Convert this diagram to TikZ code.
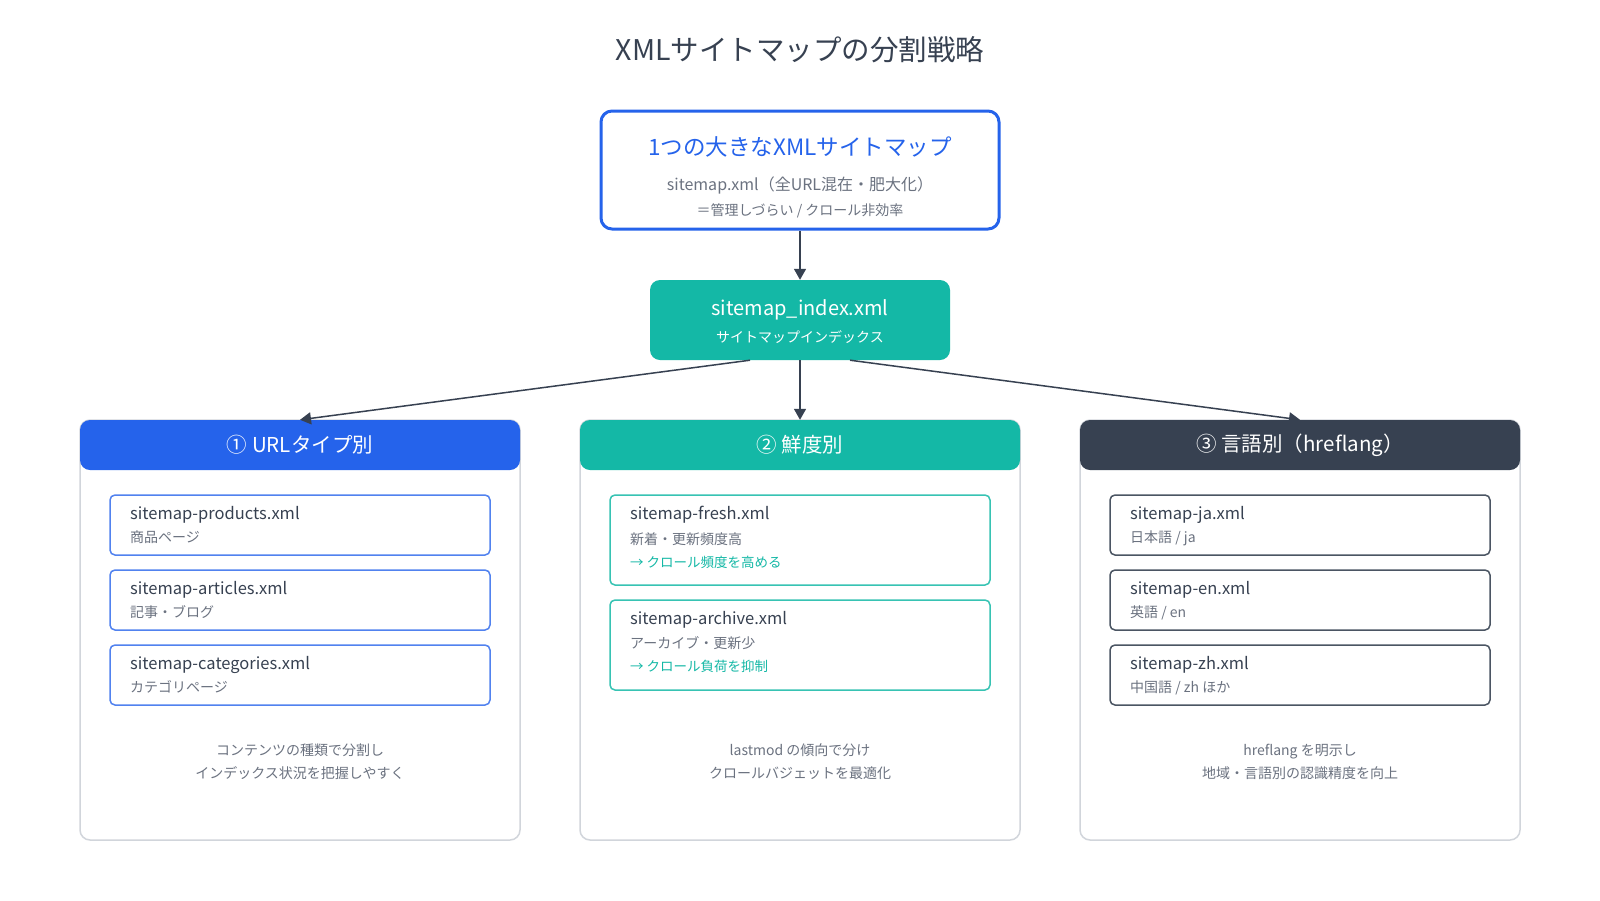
\documentclass[tikz,border=0pt]{standalone}
\usepackage{fontspec}
\setmainfont{Noto Sans CJK JP}
\usepackage{tikz}
\usetikzlibrary{positioning,arrows.meta}
\usepackage{xcolor}
\definecolor{mainblue}{HTML}{2563EB}
\definecolor{mainteal}{HTML}{14B8A6}
\definecolor{slate}{HTML}{374151}
\definecolor{subgray}{HTML}{6B7280}
\definecolor{colgray}{HTML}{D1D5DB}
\definecolor{boxgray}{HTML}{4B5563}

\begin{document}
\begin{tikzpicture}[
    x=1pt, y=-1pt,
    heading/.style={text=slate, font=\fontsize{28.5}{32}\selectfont},
    arrow/.style={draw=slate, line width=1.5pt, -{Triangle[length=11pt,width=12pt]}},
    bigbox/.style={draw=mainblue, line width=3pt, rounded corners=11pt, minimum width=398pt, minimum height=118pt},
    indexbox/.style={fill=mainteal, rounded corners=10pt, minimum width=300pt, minimum height=80pt},
    column/.style={draw=colgray, line width=1.5pt, rounded corners=10pt, fill=white, minimum width=440pt, minimum height=420pt},
    colhead/.style={rounded corners=10pt, minimum width=440pt, minimum height=50pt, text=white, font=\fontsize{20.5}{24}\selectfont},
    itembox/.style={rounded corners=5pt, line width=1.5pt, fill=white, minimum width=380pt},
    fname/.style={anchor=west, inner sep=0pt, text=slate, font=\fontsize{16.5}{19}\selectfont, text height=0.8em, text depth=0.2em},
    fdesc/.style={anchor=west, inner sep=0pt, text=subgray, font=\fontsize{14}{17}\selectfont, text height=0.8em, text depth=0.2em},
    fnote/.style={anchor=west, inner sep=0pt, text=mainteal, font=\fontsize{13.5}{16}\selectfont, text height=0.8em, text depth=0.2em},
    caption/.style={text=subgray, font=\fontsize{14}{23}\selectfont, align=center}
]
    \useasboundingbox [fill=white] (0,0) rectangle (1600,900);

    % title
    \node [heading] (title) at (800,50) {XMLサイトマップの分割戦略};

    % one big sitemap
    \node [bigbox] (bigmap) at (800,170) {};
    \node [text=mainblue, font=\fontsize{22.5}{26}\selectfont] (bigmap-name) at (800,147) {1つの大きなXMLサイトマップ};
    \node [text=subgray, font=\fontsize{16}{19}\selectfont] (bigmap-file) at (800,185) {sitemap.xml（全URL混在・肥大化）};
    \node [text=subgray, font=\fontsize{14}{17}\selectfont] (bigmap-note) at (800,211) {＝管理しづらい / クロール非効率};

    % index
    \node [indexbox] (index) at (800,320) {};
    \node [text=white, font=\fontsize{20}{24}\selectfont] (index-file) at (800,310) {sitemap\_index.xml};
    \node [text=white, font=\fontsize{14}{17}\selectfont] (index-name) at (800,337) {サイトマップインデックス};

    % three columns
    \node [column] (col1) at (300,630) {};
    \node [column] (col2) at (800,630) {};
    \node [column] (col3) at (1300,630) {};
    \node [colhead, fill=mainblue] (col1head) at (300,445) {① URLタイプ別};
    \node [colhead, fill=mainteal] (col2head) at (800,445) {② 鮮度別};
    \node [colhead, fill=slate] (col3head) at (1300,445) {③ 言語別（hreflang）};

    % by URL type
    \node [itembox, draw=mainblue!80, minimum height=60pt] (products) at (300,525) {};
    \node [fname] (products-file) at (130,516) {sitemap-products.xml};
    \node [fdesc] (products-desc) at (130,539) {商品ページ};
    \node [itembox, draw=mainblue!80, minimum height=60pt] (articles) at (300,600) {};
    \node [fname] (articles-file) at (130,591) {sitemap-articles.xml};
    \node [fdesc] (articles-desc) at (130,614) {記事・ブログ};
    \node [itembox, draw=mainblue!80, minimum height=60pt] (categories) at (300,675) {};
    \node [fname] (categories-file) at (130,666) {sitemap-categories.xml};
    \node [fdesc] (categories-desc) at (130,689) {カテゴリページ};
    \node [caption] (col1-caption) at (300,762) {コンテンツの種類で分割し\\インデックス状況を把握しやすく};

    % by freshness
    \node [itembox, draw=mainteal!85, minimum height=90pt] (fresh) at (800,540) {};
    \node [fname] (fresh-file) at (630,516) {sitemap-fresh.xml};
    \node [fdesc] (fresh-desc) at (630,541) {新着・更新頻度高};
    \node [fnote] (fresh-note) at (630,564) {→ クロール頻度を高める};
    \node [itembox, draw=mainteal!85, minimum height=90pt] (archive) at (800,645) {};
    \node [fname] (archive-file) at (630,621) {sitemap-archive.xml};
    \node [fdesc] (archive-desc) at (630,645) {アーカイブ・更新少};
    \node [fnote] (archive-note) at (630,668) {→ クロール負荷を抑制};
    \node [caption] (col2-caption) at (800,762) {lastmod の傾向で分け\\クロールバジェットを最適化};

    % by language
    \node [itembox, draw=boxgray, minimum height=60pt] (ja) at (1300,525) {};
    \node [fname] (ja-file) at (1130,516) {sitemap-ja.xml};
    \node [fdesc] (ja-desc) at (1130,539) {日本語 / ja};
    \node [itembox, draw=boxgray, minimum height=60pt] (en) at (1300,600) {};
    \node [fname] (en-file) at (1130,591) {sitemap-en.xml};
    \node [fdesc] (en-desc) at (1130,614) {英語 / en};
    \node [itembox, draw=boxgray, minimum height=60pt] (zh) at (1300,675) {};
    \node [fname] (zh-file) at (1130,666) {sitemap-zh.xml};
    \node [fdesc] (zh-desc) at (1130,689) {中国語 / zh ほか};
    \node [caption] (col3-caption) at (1300,762) {hreflang を明示し\\地域・言語別の認識精度を向上};

    % arrows
    \draw [arrow] (bigmap.south) -- (index.north);
    \draw [arrow] ([xshift=-50pt]index.south) -- (col1head.north);
    \draw [arrow] (index.south) -- (col2head.north);
    \draw [arrow] ([xshift=50pt]index.south) -- (col3head.north);
\end{tikzpicture}
\end{document}
